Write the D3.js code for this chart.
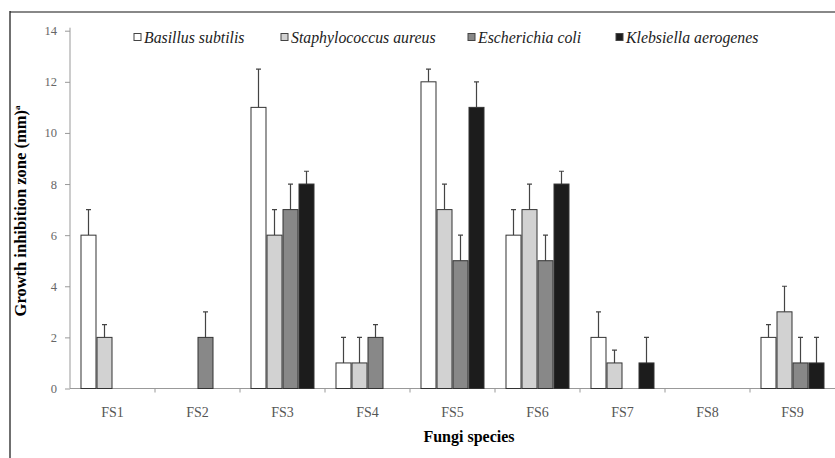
<!DOCTYPE html>
<html>
<head>
<meta charset="utf-8">
<script src="https://cdn.jsdelivr.net/npm/d3@7"></script>
<style>
    body { margin: 0; background: #fff; }
    #chart { width: 835px; height: 458px; }
    svg text { font-family: "Liberation Serif", "Times New Roman", Times, "DejaVu Serif", serif; }
</style>
</head>
<body>
<div id="chart"></div>
<script>
// ---------------------------------------------------------------- //
//                               Data                               //
// ---------------------------------------------------------------- //
var categories = ["FS1", "FS2", "FS3", "FS4", "FS5", "FS6", "FS7", "FS8", "FS9"];
var seriesNames = ["Basillus subtilis", "Staphylococcus aureus", "Escherichia coli", "Klebsiella aerogenes"];

// mean values (null = no inhibition zone)
var basillus  = [6,    null, 11, 1,    12, 6, 2,    null, 2];
var staphylo  = [2,    null, 6,  1,    7,  7, 1,    null, 3];
var escheri   = [null, 2,    7,  2,    5,  5, null, null, 1];
var klebsi    = [null, null, 8,  null, 11, 8, 1,    null, 1];

// top of error bars
var basillusErr = [7,    null, 12.5, 2,    12.5, 7,   3,    null, 2.5];
var staphyloErr = [2.5,  null, 7,    2,    8,    8,   1.5,  null, 4];
var escheriErr  = [null, 3,    8,    2.5,  6,    6,   null, null, 2];
var klebsiErr   = [null, null, 8.5,  null, 12,   8.5, 2,    null, 2];

var yTicks = [0, 2, 4, 6, 8, 10, 12, 14];

var seriesColors = ["#ffffff", "#d2d2d2", "#888888", "#1c1c1c"];

var SERIF = "'Liberation Serif', 'Times New Roman', Times, serif";

// ---------------------------------------------------------------- //
//                              Layout                              //
// ---------------------------------------------------------------- //
var W = 835, H = 458;
var plotLeft = 70, plotRight = 835, plotTop = 30.7, plotBottom = 388.5;

var svg = d3.select("#chart").append("svg")
    .attr("width", W).attr("height", H);

// Frame
svg.append("line").attr("x1", 10).attr("x2", W).attr("y1", 12).attr("y2", 12)
    .attr("stroke", "#888").attr("stroke-width", 2);
svg.append("line").attr("x1", 10).attr("x2", 10).attr("y1", 11).attr("y2", H)
    .attr("stroke", "#222").attr("stroke-width", 1.3);

// Scales
var x = d3.scaleBand().domain(categories).range([plotLeft, plotRight]);
var xs = d3.scaleBand().domain(seriesNames).range([0, x.bandwidth()])
    .paddingOuter(0.656).paddingInner(0);
var y = d3.scaleLinear().domain([0, 14]).range([plotBottom, plotTop]);

// Y axis
var yAxis = svg.append("g")
    .attr("transform", "translate(" + plotLeft + ",0)")
    .call(d3.axisLeft(y).tickValues(yTicks).tickSize(5).tickPadding(8).tickSizeOuter(0))
    .attr("font-family", SERIF);
yAxis.select(".domain").attr("stroke", "#999").attr("d", "M0," + plotBottom + "V" + (plotTop - 3));
yAxis.selectAll(".tick line").attr("stroke", "#999");
yAxis.selectAll(".tick text")
    .attr("fill", "#666").style("font-size", "12.5px")
    .style("font-family", SERIF);

// X axis (labels at band centres, ticks at band boundaries)
var xAxis = svg.append("g")
    .attr("transform", "translate(0," + plotBottom + ")")
    .call(d3.axisBottom(x).tickSize(0).tickPadding(19))
    .attr("font-family", SERIF);
xAxis.select(".domain").attr("stroke", "#999").attr("d", "M" + plotLeft + ",0H" + plotRight);
xAxis.selectAll(".tick text")
    .attr("fill", "#555").style("font-size", "14px")
    .style("font-family", SERIF);
xAxis.selectAll(".boundary")
    .data(categories.slice(1))
    .enter().append("line")
    .attr("x1", function(d) { return x(d); })
    .attr("x2", function(d) { return x(d); })
    .attr("y1", 0).attr("y2", 4)
    .attr("stroke", "#999");

// Axis labels
svg.append("text")
    .attr("x", 469).attr("y", 442)
    .attr("text-anchor", "middle")
    .style("font-family", SERIF)
    .style("font-size", "16px").style("font-weight", "bold")
    .text("Fungi species");

var yl = svg.append("text")
    .attr("transform", "translate(26,211) rotate(-90)")
    .attr("text-anchor", "middle")
    .style("font-family", SERIF)
    .style("font-size", "16.5px").style("font-weight", "bold");
yl.append("tspan").text("Growth inhibition zone (mm)");
yl.append("tspan").attr("dy", -6).style("font-size", "9px").text("a");

// ---------------------------------------------------------------- //
//                               Bars                               //
// ---------------------------------------------------------------- //
var values = [basillus, staphylo, escheri, klebsi];
var errs = [basillusErr, staphyloErr, escheriErr, klebsiErr];

values.forEach(function(vals, si) {
    var name = seriesNames[si];
    var pts = categories.map(function(c, ci) {
        return {cat: c, v: vals[ci], e: errs[si][ci]};
    }).filter(function(d) { return d.v != null; });

    var g = svg.append("g");

    // error bars (upper only)
    g.selectAll(".err").data(pts).enter().append("path")
        .attr("fill", "none").attr("stroke", "#444").attr("stroke-width", 1.2)
        .attr("d", function(d) {
            var cx = x(d.cat) + xs(name) + xs.bandwidth() / 2;
            return "M" + cx + "," + y(d.v) + "V" + y(d.e) +
                   "M" + (cx - 2.5) + "," + y(d.e) + "H" + (cx + 2.5);
        });

    g.selectAll("rect").data(pts).enter().append("rect")
        .attr("x", function(d) { return x(d.cat) + xs(name) + 0.5; })
        .attr("y", function(d) { return y(d.v); })
        .attr("width", xs.bandwidth() - 1)
        .attr("height", function(d) { return y(0) - y(d.v); })
        .attr("fill", seriesColors[si])
        .attr("stroke", "#333").attr("stroke-width", 1);
});

// ---------------------------------------------------------------- //
//                              Legend                              //
// ---------------------------------------------------------------- //
var legendX = [134, 281, 468, 616];
var legend = svg.append("g");
seriesNames.forEach(function(name, i) {
    legend.append("rect")
        .attr("x", legendX[i]).attr("y", 33.5)
        .attr("width", 7).attr("height", 7)
        .attr("fill", seriesColors[i]).attr("stroke", "#444").attr("stroke-width", 1);
    legend.append("text")
        .attr("x", legendX[i] + 10).attr("y", 43)
        .style("font-family", SERIF)
        .style("font-size", "15.8px").style("font-style", "italic")
        .attr("fill", "#222")
        .text(name);
});
</script>
</body>
</html>
